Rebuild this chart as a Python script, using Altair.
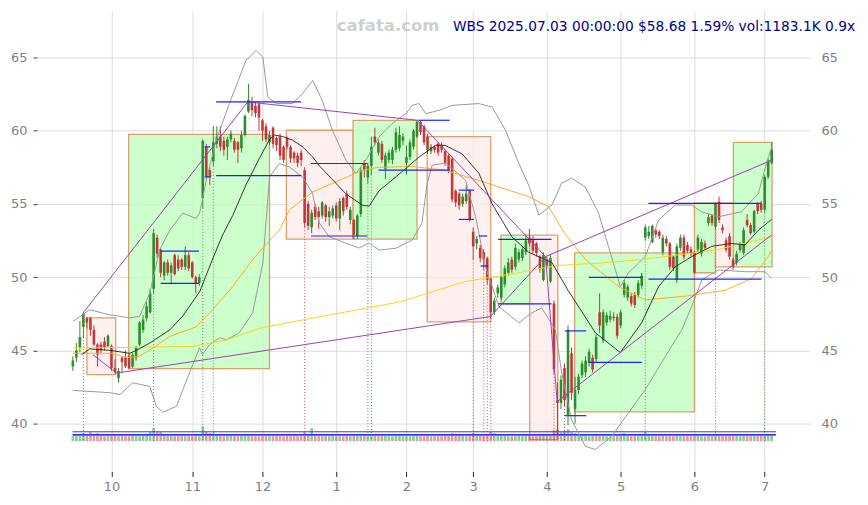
import altair as alt
import pandas as pd

OPEN = [43.9, 44.5, 45.2, 46.6, 47.2, 47.2, 46.4, 45.4, 45.4, 45.6,
        45.3, 45.3, 43.8, 43.1, 44.5, 44.5, 44.6, 43.9, 44.5, 45.4,
        46.4, 47.2, 47.6, 49.2, 52.7, 51.9, 50.1, 51.0, 50.3, 51.5,
        51.2, 51.2, 50.7, 51.5, 51.0, 50.0, 49.6, 55.4, 58.9, 57.3,
        57.9, 59.1, 59.6, 59.3, 58.9, 59.4, 59.3, 59.2, 58.8, 59.7,
        61.3, 61.9, 61.7, 61.8, 60.7, 60.3, 59.2, 60.2, 59.5, 59.6,
        58.9, 59.5, 58.9, 58.5, 58.3, 58.5, 57.3, 55.0, 53.4, 54.8,
        54.5, 54.2, 54.9, 54.1, 54.2, 54.9, 54.0, 55.4, 55.7, 53.9,
        53.9, 52.8, 54.3, 57.8, 56.8, 57.6, 59.6, 58.5, 59.1, 57.4,
        58.0, 58.0, 58.7, 58.8, 59.3, 57.8, 58.2, 58.9, 59.6, 60.6,
        60.3, 59.6, 58.6, 58.9, 59.1, 59.0, 58.6, 58.3, 58.1, 55.9,
        55.7, 55.0, 55.2, 55.9, 53.1, 52.3, 52.0, 51.7, 51.3, 49.9,
        47.6, 48.9, 48.6, 49.5, 50.3, 51.2, 50.7, 51.2, 51.3, 51.7,
        52.7, 52.6, 52.3, 51.4, 49.8, 51.2, 49.7, 48.2, 41.6, 41.4,
        43.8, 40.6, 44.8, 41.0, 42.3, 43.3, 43.5, 44.15, 44.5, 44.4,
        47.6, 45.7, 46.9, 47.1, 47.2, 47.3, 46.7, 48.8, 48.6, 48.7,
        48.8, 48.8, 49.4, 52.7, 52.8, 52.4, 53.2, 53.1, 51.7, 52.6,
        52.3, 51.4, 49.8, 52.0, 52.7, 52.2, 51.9, 51.7, 51.9, 51.6,
        52.3, 53.7, 54.2, 53.45, 55.15, 53.4, 52.5, 52.8, 51.2, 50.97,
        51.85, 51.65, 53.9, 53.55, 53.1, 55.05, 55.0, 54.6, 56.85, 57.8]
CLOSE = [44.3, 45.0, 45.9, 47.5, 46.9, 46.4, 45.4, 44.7, 45.0, 45.2,
         46.0, 43.8, 43.5, 43.6, 44.2, 43.9, 43.8, 44.7, 45.2, 46.9,
         47.1, 48.0, 48.9, 53.0, 51.6, 50.3, 51.0, 50.3, 50.8, 50.2,
         50.6, 50.7, 51.5, 50.6, 50.0, 49.6, 50.0, 59.3, 56.9, 56.8,
         59.2, 59.6, 58.9, 58.7, 59.4, 59.8, 58.7, 58.7, 59.7, 61.0,
         62.1, 61.4, 61.2, 60.9, 60.0, 59.4, 59.7, 59.1, 59.0, 58.3,
         58.0, 58.9, 58.1, 58.1, 57.8, 58.0, 53.7, 53.5, 54.4, 54.1,
         54.1, 55.1, 54.1, 54.5, 54.7, 54.0, 55.2, 54.5, 54.8, 54.6,
         52.9, 54.2, 57.3, 57.3, 57.6, 58.9, 59.2, 59.2, 58.0, 58.3,
         58.5, 58.7, 59.9, 59.7, 59.6, 58.2, 59.2, 60.0, 60.6, 59.9,
         59.2, 58.7, 58.9, 58.7, 58.5, 58.7, 57.8, 57.3, 55.3, 55.1,
         54.9, 55.5, 55.7, 53.9, 52.1, 52.6, 51.3, 51.2, 49.8, 47.6,
         48.4, 49.3, 50.0, 50.6, 51.0, 50.5, 52.0, 51.7, 51.9, 52.5,
         52.3, 51.8, 51.65, 50.6, 51.5, 50.8, 51.3, 43.7, 41.4, 43.0,
         41.6, 46.4, 42.1, 42.3, 43.2, 44.1, 44.3, 44.9, 43.7, 45.9,
         46.7, 47.6, 47.4, 47.35, 47.3, 46.0, 47.6, 49.6, 49.35, 48.2,
         48.1, 49.6, 50.1, 53.4, 53.1, 53.5, 52.9, 52.8, 52.7, 52.3,
         50.7, 50.6, 52.1, 52.7, 51.4, 51.8, 51.6, 50.3, 52.7, 52.4,
         52.0, 54.1, 53.7, 55.05, 53.9, 53.2, 51.85, 51.4, 50.7, 51.6,
         52.2, 53.2, 53.55, 53.0, 54.5, 54.5, 54.6, 56.85, 57.98, 58.68]
HIGH = [44.6, 45.5, 47.0, 47.6, 47.3, 47.3, 46.7, 45.5, 45.6, 45.9,
        46.1, 45.4, 44.4, 43.8, 44.6, 45.0, 44.8, 44.8, 45.3, 47.0,
        47.4, 48.3, 49.2, 53.3, 52.9, 52.0, 51.1, 51.2, 51.0, 51.6,
        51.5, 51.3, 52.1, 51.7, 51.1, 50.1, 50.2, 59.4, 59.1, 57.5,
        60.3, 60.3, 60.3, 59.6, 59.6, 60.0, 59.5, 59.3, 60.0, 61.1,
        63.2, 62.3, 62.0, 62.0, 60.8, 60.5, 60.0, 60.3, 59.6, 59.8,
        59.0, 59.6, 59.0, 58.6, 58.5, 58.7, 57.5, 55.2, 54.6, 55.0,
        54.8, 55.2, 55.0, 54.8, 54.9, 55.1, 55.4, 55.5, 55.9, 54.8,
        54.0, 54.3, 57.5, 58.0, 57.8, 59.6, 60.2, 59.4, 59.3, 58.5,
        58.7, 58.9, 60.2, 60.3, 59.8, 59.0, 59.4, 60.1, 60.7, 60.7,
        60.4, 59.8, 59.1, 59.0, 59.2, 59.2, 58.7, 58.4, 58.2, 56.0,
        55.8, 55.7, 56.3, 56.0, 53.4, 52.8, 52.2, 51.9, 51.4, 50.0,
        48.6, 49.5, 50.1, 50.8, 51.3, 51.4, 52.3, 51.9, 52.1, 52.9,
        53.3, 52.8, 52.4, 51.5, 51.7, 51.4, 51.5, 48.4, 42.8, 43.3,
        44.1, 46.7, 45.2, 43.2, 43.4, 44.3, 44.6, 45.1, 44.7, 46.1,
        48.9, 47.8, 47.6, 47.7, 47.6, 47.5, 47.8, 49.8, 49.5, 48.9,
        49.0, 49.8, 50.3, 53.6, 53.5, 53.6, 53.3, 53.2, 52.9, 52.8,
        52.4, 51.5, 52.3, 52.9, 52.9, 52.4, 52.1, 51.8, 52.9, 52.6,
        52.5, 54.3, 54.3, 55.1, 55.5, 53.6, 52.7, 53.0, 51.3, 51.8,
        52.4, 53.4, 54.3, 53.7, 54.6, 55.1, 55.2, 57.0, 58.1, 59.2]
LOW = [43.6, 44.2, 44.9, 45.9, 46.5, 46.0, 45.3, 43.9, 44.8, 45.0,
       45.2, 43.6, 43.4, 42.8, 43.5, 43.8, 43.7, 43.8, 44.3, 45.3,
       46.2, 47.0, 47.5, 48.9, 51.3, 50.0, 49.8, 50.1, 49.5, 50.1,
       50.4, 50.5, 50.5, 50.4, 49.9, 48.9, 49.4, 54.7, 56.6, 56.3,
       57.6, 58.8, 58.6, 58.3, 58.0, 59.2, 58.5, 57.8, 58.5, 59.6,
       61.2, 61.0, 60.9, 60.0, 59.3, 59.2, 59.0, 58.8, 58.6, 58.0,
       57.8, 58.7, 57.8, 57.8, 57.5, 57.6, 53.4, 53.2, 53.0, 53.9,
       53.3, 54.0, 53.8, 53.5, 54.0, 53.8, 53.2, 54.2, 54.6, 53.6,
       52.6, 52.6, 54.1, 56.8, 56.4, 57.0, 59.0, 58.3, 57.8, 56.7,
       57.8, 57.7, 58.5, 58.6, 59.0, 57.0, 58.0, 58.7, 59.5, 59.7,
       59.0, 58.4, 58.4, 58.5, 58.3, 58.5, 57.6, 57.1, 55.1, 54.8,
       54.6, 54.8, 55.0, 53.8, 51.2, 51.9, 51.0, 50.5, 49.5, 47.2,
       47.4, 48.6, 48.4, 49.3, 50.1, 50.3, 50.5, 51.0, 51.1, 51.5,
       52.1, 51.6, 51.4, 50.3, 49.7, 50.6, 49.6, 43.4, 39.1, 41.0,
       41.2, 39.9, 41.6, 40.0, 42.0, 43.1, 43.2, 43.9, 43.5, 44.2,
       46.2, 45.5, 46.7, 46.9, 47.0, 45.8, 46.5, 48.6, 48.4, 48.0,
       47.9, 48.6, 49.2, 52.5, 52.6, 52.3, 52.7, 52.6, 51.5, 52.1,
       50.5, 50.4, 49.6, 51.8, 51.2, 51.6, 51.4, 50.2, 51.7, 51.4,
       51.9, 53.5, 53.5, 53.3, 53.7, 53.0, 51.7, 51.2, 50.5, 50.8,
       51.7, 51.5, 53.4, 52.9, 53.0, 54.3, 54.4, 54.4, 56.7, 57.7]
VOLUME_K = [910, 930, 1090, 1450, 1270, 1640, 1270, 1450, 1090, 910,
            1090, 1090, 1270, 910, 930, 900, 910, 1090, 920, 910,
            1090, 1270, 1640, 2370, 1640, 1640, 1090, 1090, 1090, 910,
            910, 920, 900, 910, 910, 1090, 910, 2730, 1640, 1450,
            1450, 1090, 1090, 910, 1090, 1090, 910, 910, 1090, 1090,
            1270, 910, 910, 900, 910, 920, 910, 900, 910, 910,
            900, 1090, 910, 910, 900, 910, 1640, 1270, 2370, 1090,
            910, 910, 900, 910, 1090, 910, 900, 910, 1090, 910,
            1090, 1090, 1270, 1090, 1270, 1270, 1270, 910, 1270, 1090,
            910, 900, 1090, 1090, 910, 900, 910, 1090, 1090, 910,
            910, 1090, 910, 900, 910, 920, 1090, 1090, 1450, 1270,
            1090, 1090, 910, 1090, 1450, 1270, 1090, 1090, 1270, 1640,
            1450, 1270, 1090, 1090, 910, 900, 910, 1090, 910, 1090,
            910, 900, 910, 1090, 1270, 1090, 1270, 2000, 2180, 1640,
            1820, 2180, 1640, 1450, 1270, 1090, 1090, 910, 1090, 1090,
            1270, 1090, 910, 900, 910, 1090, 1090, 1450, 1090, 910,
            900, 910, 1090, 1640, 1270, 1270, 910, 900, 1090, 910,
            1090, 910, 1090, 910, 900, 910, 920, 1090, 1090, 910,
            900, 1090, 1090, 1270, 1270, 1090, 1090, 1090, 1270, 1090,
            910, 1090, 910, 900, 1090, 1090, 1090, 1270, 1270, 1183]
BLUE_BARS = [3, 10, 50, 98, 129, 134, 136, 165, 183, 198]
ORANGE_BARS = [7, 12, 80, 119, 133, 138, 177, 188]

MONTH_IDX = [11, 34, 54, 75, 95, 114, 135, 156, 177, 197]
MONTH_LABELS = ['10', '11', '12', '1', '2', '3', '4', '5', '6', '7']
Y_TICKS = [40, 45, 50, 55, 60, 65]

BOX_KIND = ['pink', 'green', 'pink', 'green', 'pink', 'green', 'pink', 'green', 'green', 'pink', 'green']
BOX_X1 = [4.0, 15.9, 60.8, 79.8, 100.9, 121.9, 130.1, 142.9, 177.0, 183.0, 188.1]
BOX_X2 = [12.2, 56.0, 79.8, 98.0, 119.0, 130.1, 138.1, 177.0, 183.0, 188.1, 199.1]
BOX_TOP = [47.22, 59.75, 60.03, 60.7, 59.6, 52.87, 52.87, 51.65, 55.05, 55.05, 59.2]
BOX_BOT = [43.34, 43.75, 52.6, 52.6, 46.95, 48.17, 38.9, 40.8, 50.3, 50.7, 50.7]

BLACK_X = [2.5, 4.8, 10.5, 16.2, 18.1, 21.9, 27.6, 31.3, 36.1, 39.9, 42.7, 45.5, 49.3, 53.1, 56.0, 57.4,
           59.8, 62.6, 65.4, 68.3, 70.2, 77.7, 82.5, 84.4, 87.2, 92.0, 98.6, 103.3, 106.0, 110.9, 115.6,
           119.4, 125.0, 129.8, 136.4, 141.0, 148.8, 155.9, 162.0, 166.8, 171.5, 176.2, 181.9, 187.5,
           191.4, 195.2, 199.0]
BLACK_Y = [44.7, 45.1, 45.0, 44.8, 45.0, 45.5, 46.4, 47.35, 49.0, 51.3, 52.9, 54.2, 56.3, 58.1, 59.4, 59.7,
           59.6, 59.35, 58.9, 58.2, 57.6, 55.7, 54.9, 54.85, 55.9, 56.85, 58.2, 59.0, 59.0, 58.4, 57.1,
           55.0, 52.75, 51.7, 51.0, 49.1, 46.2, 44.85, 46.9, 49.35, 50.7, 51.4, 52.1, 52.3,
           52.2, 53.2, 53.95]
ORANGE_X = [0, 11, 15.5, 18.9, 22.8, 27.6, 35.1, 39.9, 45.5, 51.2, 56.0, 58.8, 61.7, 68.2, 72.0, 82.5,
            87.0, 96.7, 106.0, 115.6, 129.8, 135.5, 140.0, 146.0, 155.4, 163.0, 174.3, 185.7, 193.3,
            198.0, 199.0]
ORANGE_Y = [44.8, 44.8, 44.5, 44.6, 45.15, 45.95, 46.6, 47.8, 49.35, 51.2, 52.5, 53.2, 54.6, 55.8, 56.2,
            57.3, 57.5, 57.55, 57.3, 56.6, 55.5, 54.8, 53.0, 51.2, 49.35, 48.45, 48.7, 49.1, 49.9,
            51.4, 51.85]
YELLOW_X = [0, 34, 43.7, 53, 67, 93, 111.8, 127, 130.7, 138.4, 149.7, 162.2, 183, 198, 199]
YELLOW_Y = [45.15, 45.27, 45.7, 46.5, 47.15, 48.3, 49.7, 50.3, 50.5, 50.8, 50.95, 51.2, 51.85, 52.7, 52.75]

UPPER_X = [0, 4.8, 10.5, 16.2, 19.0, 21.9, 24.7, 27.6, 31.25, 35.1, 36.1, 38.0, 40.8, 44.6, 49.3, 52.2,
           54.1, 55.5, 57.9, 62.6, 65.4, 68.3, 71.0, 73.9, 77.8, 80.6, 83.4, 87.2, 90.9, 94.8, 96.6,
           98.6, 100.5, 104.3, 108.0, 115.6, 119.4, 123.2, 127.0, 129.8, 132.7, 136.4, 139.2, 142.0,
           145.9, 149.7, 155.9, 158.2, 163.0, 166.8, 171.5, 176.2, 179.0, 183.8, 190.4, 195.2, 197.5,
           199.0]
UPPER_Y = [46.97, 47.77, 47.43, 47.22, 47.31, 48.92, 51.85, 53.2, 54.37, 54.01, 54.37, 56.62, 59.35,
           61.87, 64.8, 65.48, 65.02, 62.3, 61.85, 61.85, 62.53, 63.43, 62.07, 60.03, 57.98, 57.08,
           57.98, 59.57, 60.48, 61.16, 61.73, 61.85, 61.16, 61.39, 61.73, 61.85, 61.61, 60.03, 57.76,
           56.28, 54.24, 54.92, 56.42, 56.76, 56.16, 54.37, 49.35, 50.29, 51.4, 53.9, 54.92, 54.92,
           54.46, 54.12, 54.46, 55.71, 57.76, 58.9]
LOWER_X = [0, 10.5, 13.4, 17.0, 21.9, 23.8, 25.6, 29.5, 33.2, 36.1, 36.9, 38.9, 41.8, 43.7, 47.4, 51.2,
           54.1, 56.0, 58.8, 61.6, 65.4, 68.2, 70.2, 73.0, 77.8, 81.5, 84.4, 87.2, 92.0, 96.6, 99.4,
           100.9, 102.3, 106.2, 111.8, 114.7, 117.5, 121.3, 127.0, 130.7, 133.5, 137.4, 139.2, 142.0,
           145.9, 148.8, 153.4, 158.2, 163.0, 168.7, 173.4, 176.2, 179.1, 183.8, 191.4, 197.1, 198.9]
LOWER_Y = [42.27, 42.11, 41.98, 42.79, 42.54, 41.18, 40.77, 41.18, 43.47, 45.18, 44.7, 45.38, 45.86,
           45.72, 46.2, 47.56, 50.97, 56.85, 57.76, 57.53, 56.85, 55.74, 53.69, 52.76, 52.31, 51.99,
           52.33, 51.85, 51.97, 52.53, 53.69, 56.4, 57.64, 57.78, 56.62, 54.12, 50.71, 47.99, 46.88,
           47.56, 47.9, 46.4, 43.47, 40.27, 38.45, 38.23, 39.13, 40.73, 42.32, 44.58, 46.4, 47.99,
           49.81, 50.49, 50.37, 50.37, 49.92]

ZIG1_X = [2.93, 49.8, 98.1, 134.6, 137.9, 198.9]
ZIG1_Y = [47.56, 61.96, 60.71, 51.4, 41.5, 52.87]
ZIG2_X = [5.77, 12.4, 118.9, 134.6, 198.9]
ZIG2_Y = [44.7, 43.45, 47.31, 51.4, 57.98]

SEG_X1 = [25.0, 25.0, 37.5, 37.5, 40.8, 40.8, 67.8, 67.8, 87.0, 98.4, 109.9, 109.9, 115.6, 116.1,
          121.1, 121.1, 140.1, 140.1, 146.9, 146.9, 163.9, 163.9]
SEG_X2 = [35.9, 35.9, 39.1, 39.1, 65.0, 65.0, 83.9, 83.9, 107.3, 107.3, 114.2, 114.2, 118.0, 118.3,
          136.3, 136.3, 146.2, 146.2, 162.2, 162.0, 196.1, 196.1]
SEG_Y = [51.78, 49.58, 58.89, 56.85, 61.96, 56.93, 57.76, 52.81, 57.3, 60.71, 55.94, 53.94, 52.81, 50.76,
         52.58, 48.17, 46.33, 40.54, 49.99, 44.18, 55.03, 49.86]

GREEN_MARK = [3, 23, 37, 40, 84, 85, 163, 183, 197]
RED_MARK = [66, 114, 117, 118, 119, 137, 140]

VOL_LEVELS = [1711, 1219, 1040]
VOL_LEVEL_COLORS = ['#3030ff', '#3030ff', '#777777']

TITLE_SITE = 'cafata.com'
TITLE_INFO = 'WBS 2025.07.03 00:00:00 $58.68 1.59% vol:1183.1K 0.9x'

VOL_BASE = 38.8
VOL_UNIT = 0.000374

n = len(CLOSE)
cat = []
for i in range(n):
    if i in BLUE_BARS:
        cat.append('blue')
    elif i in ORANGE_BARS:
        cat.append('orange')
    elif CLOSE[i] >= OPEN[i]:
        cat.append('up')
    else:
        cat.append('down')
candles = pd.DataFrame({'idx': list(range(n)), 'o': OPEN, 'c': CLOSE, 'h': HIGH, 'l': LOW,
                        'cat': cat, 'vol': VOLUME_K,
                        'vdir': ['up' if CLOSE[i] >= OPEN[i] else 'down' for i in range(n)]})

boxes = pd.DataFrame({'kind': BOX_KIND, 'x1': BOX_X1, 'x2': BOX_X2, 'top': BOX_TOP, 'bot': BOX_BOT})
bands = pd.concat([pd.DataFrame({'band': 'upper', 'idx': UPPER_X, 'p': UPPER_Y}),
                   pd.DataFrame({'band': 'lower', 'idx': LOWER_X, 'p': LOWER_Y})])
black = pd.DataFrame({'idx': BLACK_X, 'p': BLACK_Y})
orange = pd.DataFrame({'idx': ORANGE_X, 'p': ORANGE_Y})
yellow = pd.DataFrame({'idx': YELLOW_X, 'p': YELLOW_Y})
zig = pd.concat([pd.DataFrame({'g': 'a', 'idx': ZIG1_X, 'p': ZIG1_Y, 'k': list(range(len(ZIG1_X)))}),
                 pd.DataFrame({'g': 'b', 'idx': ZIG2_X, 'p': ZIG2_Y, 'k': list(range(len(ZIG2_X)))})])
segs = pd.DataFrame({'x1': SEG_X1, 'x2': SEG_X2, 'p': SEG_Y})
marks = pd.DataFrame({'idx': GREEN_MARK + RED_MARK,
                      'kind': ['g'] * len(GREEN_MARK) + ['r'] * len(RED_MARK),
                      'top': [LOW[i] for i in GREEN_MARK + RED_MARK]})
marks['bot'] = VOL_BASE
vlev = pd.DataFrame({'v': VOL_LEVELS, 'col': VOL_LEVEL_COLORS, 'x1': -0.1, 'x2': 200.2})
months = pd.DataFrame({'idx': MONTH_IDX, 'lab': MONTH_LABELS, 'p': [40] * len(MONTH_IDX)})

XMIN, XMAX = -10.23, 209.94
YMIN, YMAX = 36.73, 68.2
xs = alt.Scale(domain=[XMIN, XMAX], nice=False, zero=False, padding=0)
ys = alt.Scale(domain=[YMIN, YMAX], nice=False, zero=False, padding=0)
label_expr = ' : '.join(f"datum.value == {v} ? '{l}'" for v, l in zip(MONTH_IDX, MONTH_LABELS)) + " : ''"
xaxis = alt.Axis(values=MONTH_IDX, labelExpr=label_expr, grid=True, gridColor='#dddddd', gridWidth=1,
                 tickSize=5, tickColor='#222222', domain=False, labelColor='#808080', labelFontSize=13,
                 labelPadding=4, title=None, orient='bottom')
xaxis_top = alt.Axis(values=MONTH_IDX, grid=False, ticks=False, labels=False, domain=False,
                     title=None, orient='top')
yaxis = alt.Axis(values=Y_TICKS, grid=True, gridColor='#dddddd', gridWidth=1, tickSize=4,
                 tickColor='#444444', domain=False, labelColor='#808080', labelFontSize=13,
                 labelPadding=6, title=None, orient='left')
yaxis_r = alt.Axis(values=Y_TICKS, grid=False, ticks=False, tickSize=0, domain=False,
                   labelColor='#808080', labelFontSize=13, labelPadding=11, title=None, orient='right')


def X(f, ax=None):
    return alt.X(f, type='quantitative', scale=xs, axis=ax)


def Y(f, ax=None):
    return alt.Y(f, type='quantitative', scale=ys, axis=ax)


axis_layer = alt.Chart(months).mark_point(opacity=0).encode(x=X('idx', xaxis), y=Y('p', yaxis))

box_layer = alt.Chart(boxes).mark_rect(stroke='#daa06c', strokeWidth=1.3, fillOpacity=0.8).encode(
    x=X('x1'), x2='x2', y=Y('top'), y2='bot',
    fill=alt.Fill('kind:N', scale=alt.Scale(domain=['green', 'pink'], range=['#bfffbf', '#ffecec']),
                  legend=None))

mark_layer = alt.Chart(marks).mark_rule(strokeDash=[1, 2], strokeWidth=1, opacity=0.85).encode(
    x=X('idx'), y=Y('top'), y2='bot',
    color=alt.Color('kind:N', scale=alt.Scale(domain=['g', 'r'], range=['#2e8b2e', '#c03838']), legend=None))

ccol = alt.Color('cat:N', scale=alt.Scale(domain=['up', 'down', 'blue', 'orange'],
                                          range=['#228b22', '#b22222', '#0000ff', '#ffa500']), legend=None)
wick_layer = alt.Chart(candles).mark_rule(strokeWidth=1).encode(x=X('idx'), y=Y('l'), y2='h', color=ccol)
body_layer = alt.Chart(candles).mark_bar(size=2.6).encode(x=X('idx'), y=Y('o'), y2='c', color=ccol)

band_layer = alt.Chart(bands).mark_line(color='#9a9a9a', strokeWidth=1).encode(
    x=X('idx'), y=Y('p'), detail='band:N')
yellow_layer = alt.Chart(yellow).mark_line(color='#ffd21a', strokeWidth=1).encode(x=X('idx'), y=Y('p'))
orange_layer = alt.Chart(orange).mark_line(color='#ffad1f', strokeWidth=1).encode(x=X('idx'), y=Y('p'))
black_layer = alt.Chart(black).mark_line(color='#222222', strokeWidth=0.9).encode(x=X('idx'), y=Y('p'))
zig_layer = alt.Chart(zig).mark_line(color='#a040b0', strokeWidth=1).encode(
    x=X('idx'), y=Y('p'), detail='g:N', order='k:Q')
seg_layer = alt.Chart(segs).mark_rule(color='#2020ff', strokeWidth=1.2).encode(x=X('x1'), x2='x2', y=Y('p'))

vol_bars = alt.Chart(candles).transform_calculate(
    vt=f'{VOL_BASE} + datum.vol * {VOL_UNIT}', vb=f'{VOL_BASE}'
).mark_bar(size=2.6, opacity=0.5).encode(
    x=X('idx'), y=Y('vt:Q'), y2='vb:Q',
    color=alt.Color('vdir:N', scale=alt.Scale(domain=['up', 'down'], range=['#228b22', '#c03030']),
                    legend=None))
vol_lines = alt.Chart(vlev).transform_calculate(
    vy=f'{VOL_BASE} + datum.v * {VOL_UNIT}'
).mark_rule(strokeWidth=1).encode(
    x=X('x1'), x2='x2', y=Y('vy:Q'), color=alt.Color('col:N', scale=None))

right_axis = alt.Chart(months).mark_point(opacity=0).encode(
    x=X('idx', xaxis_top), y=alt.Y('p:Q', scale=ys, axis=yaxis_r))

site_text = alt.Chart(pd.DataFrame({'t': [TITLE_SITE]})).mark_text(
    font='DejaVu Sans', fontSize=16.5, fontWeight='bold', color='#d0d0d0', align='center', baseline='middle'
).encode(text='t:N', x=alt.value(352), y=alt.value(15))
info_text = alt.Chart(pd.DataFrame({'t': [TITLE_INFO]})).mark_text(
    font='DejaVu Sans', fontSize=13.8, color='#00008b', align='left', baseline='middle'
).encode(text='t:N', x=alt.value(417), y=alt.value(16))

chart = alt.layer(axis_layer, box_layer, mark_layer, wick_layer, body_layer, vol_bars, vol_lines, band_layer,
                  yellow_layer, orange_layer, black_layer, zig_layer, seg_layer, right_axis,
                  site_text, info_text).properties(
    width=775, height=462,
    padding={'left': 29, 'top': 2, 'right': 50, 'bottom': 25},
    autosize=alt.AutoSizeParams(type='none'),
).configure(font='DejaVu Sans').configure_view(stroke=None)

chart.save('out.html', embed_options={'renderer': 'svg', 'actions': False})
